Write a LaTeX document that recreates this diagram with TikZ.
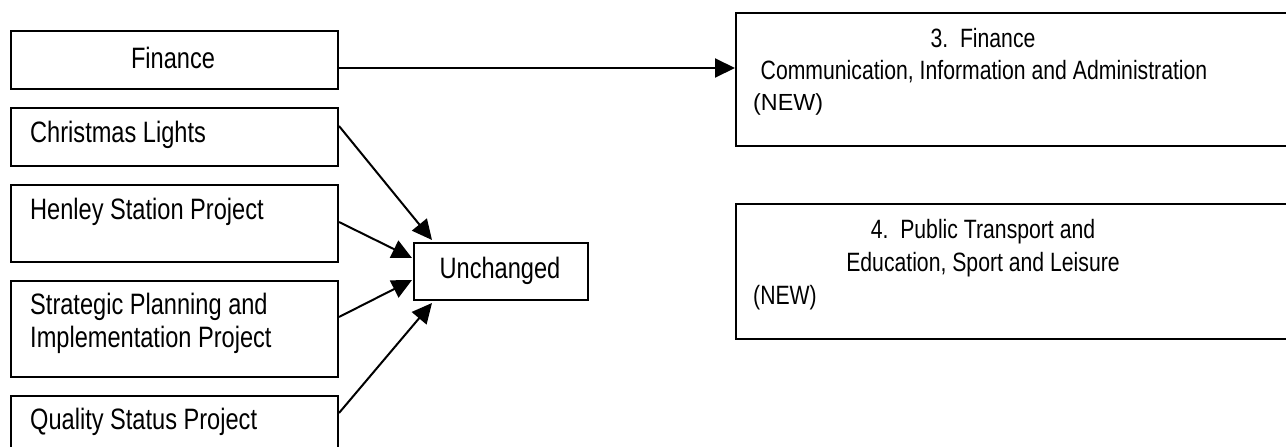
\documentclass[tikz,border=0pt]{standalone}
\usepackage{fontspec}
\setmainfont{Liberation Sans}[FakeStretch=0.80]
\newfontfamily\widefont{Liberation Sans}
\usetikzlibrary{arrows.meta,calc}

\begin{document}
\begin{tikzpicture}
  [x=1pt,y=-1pt,
  box/.style={draw,line width=2pt,inner sep=0pt,anchor=north west},
  txt/.style={inner sep=0pt,font=\fontsize{29.5}{33}\selectfont},
  ltxt/.style={txt,anchor=west},
  rtxt/.style={inner sep=0pt,font=\fontsize{26.5}{33}\selectfont},
  link/.style={line width=2pt,-{Triangle[length=20pt,width=19pt]}}]

  \clip (0,0) rectangle (1286,447);
  \fill[white] (0,0) rectangle (1286,447);

  % left column
  \node[box,minimum width=327pt,minimum height=58pt] (fin) at (10,30) {};
  \node[txt] (fintxt) at (173,58) {Finance};

  \node[box,minimum width=327pt,minimum height=58pt] (xmas) at (10,107) {};
  \node[ltxt] (xmastxt) at (30,135) {Christmas Lights};

  \node[box,minimum width=327pt,minimum height=77pt] (henley) at (10,184) {};
  \node[ltxt] (henleytxt) at (30,212) {Henley Station Project};

  \node[box,minimum width=327pt,minimum height=96pt] (strat) at (10,280) {};
  \node[ltxt] (strattxt1) at (30,307) {Strategic Planning and};
  \node[ltxt] (strattxt2) at (30,340) {Implementation Project};

  \node[box,minimum width=327pt,minimum height=80pt] (qual) at (10,395) {};
  \node[ltxt] (qualtxt) at (30,422) {Quality Status Project};

  % middle
  \node[box,minimum width=174pt,minimum height=57pt] (unch) at (413,242) {};
  \node[txt] (unchtxt) at (500,271) {Unchanged};

  % right column
  \node[box,minimum width=600pt,minimum height=133pt] (new3) at (735,12) {};
  \node[rtxt] (new3a) at (983,38) {3.\ \ Finance};
  \node[rtxt] (new3b) at (984,72) {Communication, Information and Administration};
  \node[rtxt,anchor=west,font=\widefont\fontsize{23.3}{33}\selectfont] (new3c) at (753,104) {(NEW)};

  \node[box,minimum width=600pt,minimum height=135pt] (new4) at (735,203) {};
  \node[rtxt] (new4a) at (983,232) {4.\ \ Public Transport and};
  \node[rtxt] (new4b) at (983,265) {Education, Sport and Leisure};
  \node[rtxt,anchor=west] (new4c) at (753,298) {(NEW)};

  % arrows
  \draw[link] ($(fin.north east)+(0,38)$) -- ($(new3.north west)+(0,56)$);
  \draw[link] ($(xmas.north east)+(0,19)$) -- ($(unch.north west)+(19,-2)$);
  \draw[link] ($(henley.north east)+(0,38)$) -- ($(unch.north west)+(-1,16)$);
  \draw[link] ($(strat.north east)+(0,37)$) -- ($(unch.north west)+(-1,38)$);
  \draw[link] ($(qual.north east)+(0,18)$) -- ($(unch.south west)+(19,2)$);

\end{tikzpicture}
\end{document}
